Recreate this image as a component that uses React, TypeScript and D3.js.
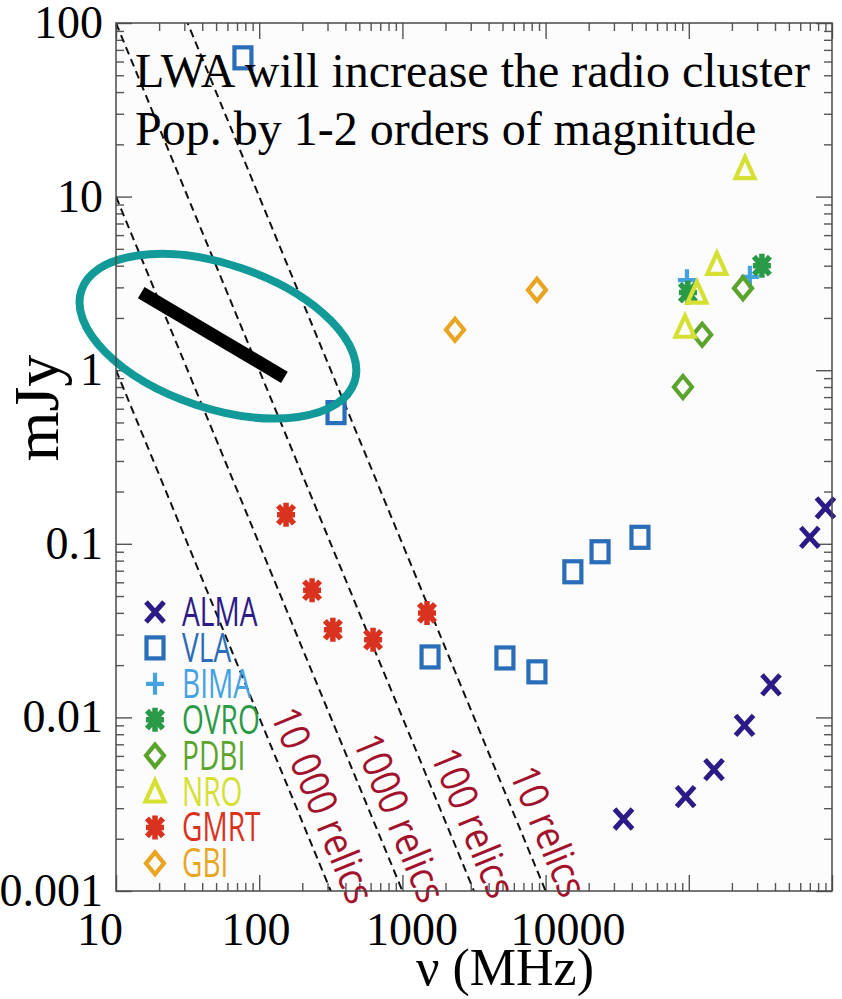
import * as d3 from "d3";
import {useEffect, useRef} from "react";

// frequencies in MHz, fluxes in mJy
const almaFreq = [35000, 95000, 150000, 245000, 375000, 700000, 900000];
const almaFlux = [0.0026, 0.0035, 0.005, 0.009, 0.0154, 0.109, 0.161];
const vlaFreq = [77, 344, 1560, 5200, 8700, 15500, 24000, 45600];
const vlaFlux = [63, 0.57, 0.0223, 0.022, 0.0183, 0.069, 0.09, 0.109];
const bimaFreq = [97000, 267000];
const bimaFlux = [3.3, 3.45];
const ovroFreq = [98600, 324000];
const ovroFlux = [2.8, 4.0];
const pdbiFreq = [91000, 124000, 239000];
const pdbiFlux = [0.8, 1.6, 2.97];
const nroFreq = [94000, 114000, 157000, 247000];
const nroFlux = [1.78, 2.8, 4.1, 14.6];
const gmrtFreq = [154, 234, 327, 624, 1485];
const gmrtFlux = [0.147, 0.054, 0.032, 0.028, 0.04];
const gbiFreq = [2330, 8700];
const gbiFlux = [1.71, 2.9];

// relic count lines: S = norm * (nu / 1000 MHz)^-2
const relicLabels = ["10 000 relics", "1000 relics", "100 relics", "10 relics"];
const relicNorms = [0.0001, 0.001, 0.01, 0.1];
const relicLabelFlux = [0.0098, 0.0069, 0.0057, 0.0045];

// LWA sensitivity segment and highlight
const lwaFreq = [15, 150];
const lwaFlux = [2.8, 0.91];
const ellipseCenter = [51.5, 1.57];

const xTickLabels = ["10", "100", "1000", "10000"];
const yTickLabels = ["100", "10", "1", "0.1", "0.01", "0.001"];

const series = [
  {name: "ALMA", shape: "x", color: "#2c1b86", freq: almaFreq, flux: almaFlux},
  {name: "VLA", shape: "square", color: "#2a6db8", freq: vlaFreq, flux: vlaFlux},
  {name: "BIMA", shape: "plus", color: "#45a2e2", freq: bimaFreq, flux: bimaFlux},
  {name: "OVRO", shape: "asterisk", color: "#2b9a47", freq: ovroFreq, flux: ovroFlux},
  {name: "PDBI", shape: "diamond", color: "#5ba42c", freq: pdbiFreq, flux: pdbiFlux},
  {name: "NRO", shape: "triangle", color: "#d6e032", freq: nroFreq, flux: nroFlux},
  {name: "GMRT", shape: "asterisk", color: "#d9321f", freq: gmrtFreq, flux: gmrtFlux},
  {name: "GBI", shape: "diamond", color: "#e9a522", freq: gbiFreq, flux: gbiFlux},
];

function drawMarker(g, shape, color) {
  const sw = 4.2;
  if (shape === "x") {
    g.append("path").attr("d", "M-9,-10L9,10M-9,10L9,-10")
      .attr("stroke", color).attr("stroke-width", 5).attr("fill", "none");
  } else if (shape === "square") {
    g.append("rect").attr("x", -8.5).attr("y", -10.5).attr("width", 17).attr("height", 21)
      .attr("stroke", color).attr("stroke-width", sw).attr("fill", "none");
  } else if (shape === "plus") {
    g.append("path").attr("d", "M-9,0L9,0M0,-11L0,11")
      .attr("stroke", color).attr("stroke-width", sw).attr("fill", "none");
  } else if (shape === "asterisk") {
    g.append("path").attr("d", "M0,-12L0,12M-8,-9L8,9M-8,9L8,-9M-9,0L9,0")
      .attr("stroke", color).attr("stroke-width", 5.5).attr("fill", "none");
  } else if (shape === "diamond") {
    g.append("path").attr("d", "M0,-11L9,0L0,11L-9,0Z")
      .attr("stroke", color).attr("stroke-width", sw).attr("fill", "none");
  } else if (shape === "triangle") {
    g.append("path").attr("d", "M0,-11L9.5,10L-9.5,10Z")
      .attr("stroke", color).attr("stroke-width", sw).attr("fill", "none");
  }
}

function App() {
  const ref = useRef(null);

  useEffect(() => {
    const svg = d3.select(ref.current);
    svg.selectAll("*").remove();

    const left = 116, right = 832, top = 23, bottom = 891;
    const x = d3.scaleLog().domain([10, 1e6]).range([left, right]);
    const y = d3.scaleLog().domain([0.001, 100]).range([bottom, top]);
    // the tick numbers were pasted on with a slightly different spacing
    const xLabelPos = d3.scaleLog().domain([10, 10000]).range([100, 568]);

    const isMajor = d => Math.abs(Math.log10(d) - Math.round(Math.log10(d))) < 1e-6;

    const defs = svg.append("defs");
    defs.append("clipPath").attr("id", "plotClip")
      .append("rect").attr("x", left).attr("y", top).attr("width", right - left).attr("height", bottom - top);
    defs.append("clipPath").attr("id", "labelClip")
      .append("rect").attr("x", left).attr("y", top).attr("width", right - left).attr("height", bottom - top + 13);

    svg.append("rect").attr("x", left).attr("y", top).attr("width", right - left).attr("height", bottom - top)
      .attr("fill", "#fcfcfc");

    // ticks on all four sides
    const tickColor = "#555";
    const axes = [
      {axis: d3.axisBottom(x), tr: `translate(0,${bottom})`, vals: x.ticks()},
      {axis: d3.axisTop(x), tr: `translate(0,${top})`, vals: x.ticks()},
      {axis: d3.axisLeft(y), tr: `translate(${left},0)`, vals: y.ticks()},
      {axis: d3.axisRight(y), tr: `translate(${right},0)`, vals: y.ticks()},
    ];
    axes.forEach(a => {
      const g = svg.append("g").attr("transform", a.tr)
        .call(a.axis.tickValues(a.vals).tickFormat(() => "").tickSizeOuter(0));
      g.select(".domain").remove();
      g.selectAll(".tick line")
        .attr("stroke", tickColor).attr("stroke-width", 1.4)
        .each(function (d) {
          const len = isMajor(d) ? 16 : 8;
          const line = d3.select(this);
          if (line.attr("y2") !== null && +line.attr("y2") !== 0) {
            line.attr("y2", +line.attr("y2") > 0 ? -len : len);
          } else {
            line.attr("x2", +line.attr("x2") > 0 ? -len : len);
          }
        });
    });

    // relic lines
    const plot = svg.append("g").attr("clip-path", "url(#plotClip)");
    relicNorms.forEach(k => {
      const nus = [10, 1e6];
      plot.append("line")
        .attr("x1", x(nus[0])).attr("y1", y(k * Math.pow(nus[0] / 1000, -2)))
        .attr("x2", x(nus[1])).attr("y2", y(k * Math.pow(nus[1] / 1000, -2)))
        .attr("stroke", "#111").attr("stroke-width", 2).attr("stroke-dasharray", "8,5");
    });

    const labels = svg.append("g").attr("clip-path", "url(#labelClip)");
    relicNorms.forEach((k, i) => {
      const s = relicLabelFlux[i];
      const nu = 1000 * Math.sqrt(k / s);
      const dx = x(nu * 10) - x(nu), dy = y(s / 100) - y(s);
      const ang = Math.atan2(dy, dx);
      const gap = 11;
      const bx = x(nu) + Math.sin(ang) * gap, by = y(s) - Math.cos(ang) * gap;
      labels.append("text")
        .attr("transform", `translate(${bx},${by}) rotate(${ang * 180 / Math.PI}) scale(0.94,1.08)`)
        .attr("font-family", "'Open Sans', sans-serif").attr("font-size", 38)
        .attr("fill", "#a3122c")
        .text(relicLabels[i]);
    });

    // data markers
    series.forEach(sr => {
      sr.freq.forEach((f, i) => {
        const g = svg.append("g").attr("transform", `translate(${x(f)},${y(sr.flux[i])})`);
        drawMarker(g, sr.shape, sr.color);
      });
    });

    // LWA segment and ellipse
    svg.append("line")
      .attr("x1", x(lwaFreq[0])).attr("y1", y(lwaFlux[0]))
      .attr("x2", x(lwaFreq[1])).attr("y2", y(lwaFlux[1]))
      .attr("stroke", "#000").attr("stroke-width", 13);
    svg.append("ellipse")
      .attr("transform", `translate(${x(ellipseCenter[0])},${y(ellipseCenter[1])}) rotate(18.6)`)
      .attr("rx", 144).attr("ry", 72)
      .attr("fill", "none").attr("stroke", "#119a98").attr("stroke-width", 8);

    // legend
    const legend = svg.append("g");
    series.forEach((sr, i) => {
      const ly = 612 + i * 35.9;
      drawMarker(legend.append("g").attr("transform", `translate(155,${ly})`), sr.shape, sr.color);
      legend.append("text")
        .attr("transform", `translate(182,${ly + 14}) scale(0.72,1.04)`)
        .attr("font-family", "'Open Sans', sans-serif").attr("font-size", 39)
        .attr("fill", sr.color)
        .text(sr.name);
    });

    // frame
    svg.append("rect").attr("x", left).attr("y", top).attr("width", right - left).attr("height", bottom - top)
      .attr("fill", "none").attr("stroke", "#4a4a4a").attr("stroke-width", 1.5);

    // annotation text
    const serif = "'Liberation Serif', 'Times New Roman', serif";
    svg.append("text").attr("x", 135).attr("y", 87)
      .attr("font-family", serif).attr("font-size", 48).attr("fill", "#000")
      .text("LWA will increase the radio cluster");
    svg.append("text").attr("x", 135).attr("y", 145)
      .attr("font-family", serif).attr("font-size", 48).attr("fill", "#000")
      .text("Pop. by 1-2 orders of magnitude");

    // tick labels
    const yVals = [100, 10, 1, 0.1, 0.01, 0.001];
    yTickLabels.forEach((t, i) => {
      svg.append("text").attr("x", 103).attr("y", y(yVals[i]) + 15)
        .attr("text-anchor", "end")
        .attr("font-family", serif).attr("font-size", 46).attr("fill", "#000")
        .text(t);
    });
    xTickLabels.forEach(t => {
      svg.append("text").attr("x", xLabelPos(+t)).attr("y", 945)
        .attr("text-anchor", "middle")
        .attr("font-family", serif).attr("font-size", 46).attr("fill", "#000")
        .text(t);
    });

    // axis titles
    svg.append("text").attr("x", 505).attr("y", 985)
      .attr("text-anchor", "middle")
      .attr("font-family", serif).attr("font-size", 52).attr("fill", "#000")
      .text("\u03bd (MHz)");
    svg.append("text")
      .attr("transform", "translate(58,408) rotate(-90)")
      .attr("text-anchor", "middle")
      .attr("font-family", serif).attr("font-size", 64).attr("fill", "#000")
      .text("mJy");
  }, []);

  return (
    <svg ref={ref} width={842} height={999}
      style={{position: "absolute", left: 0, top: 0, background: "#fff"}} />
  );
}

export default App;
